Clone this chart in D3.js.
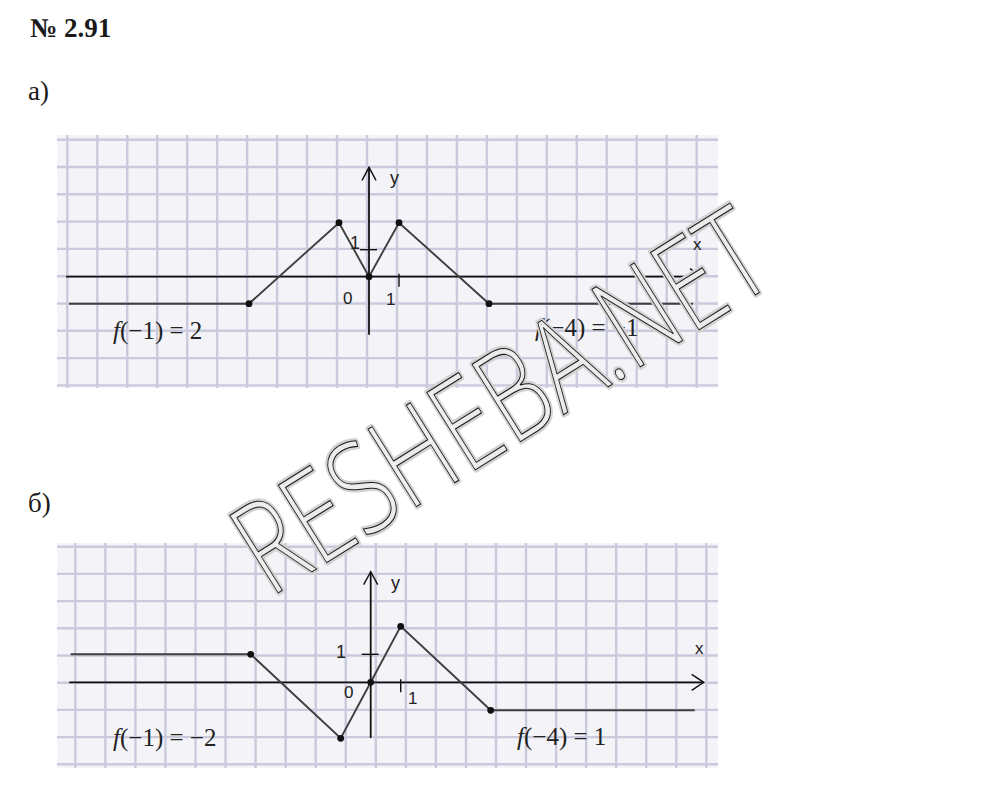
<!DOCTYPE html>
<html><head><meta charset="utf-8">
<script src="https://cdn.jsdelivr.net/npm/d3@7"></script>
<style>body{margin:0;background:#fff;} svg{display:block;}</style>
</head><body>
<script>
// ---- data (graph units) ----
const title = "№ 2.91";
const panelLabels = ["а)", "б)"];
const graphA_x = [-10, -4, -1, 0, 1, 4, 10.8];
const graphA_y = [-1, -1, 2, 0, 2, -1, -1];
const graphB_x = [-10, -4, -1, 0, 1, 4, 10.8];
const graphB_y = [1, 1, -2, 0, 2, -1, -1];
const dotIndex = [1, 2, 3, 4, 5];
const xAxisRange = [-10.1, 11.1];
const yAxisRangeA = [-2.15, 4.05];
const yAxisRangeB = [-1.99, 3.95];
const tickValue = 1;
const formulaA = [["f", "(−1) = 2"], ["f", "(−4) = −1"]];
const formulaB = [["f", "(−1) = −2"], ["f", "(−4) = 1"]];
const watermark = "RESHEBA.NET";

const svg = d3.select("body").append("svg").attr("width", 992).attr("height", 800);

svg.append("text").attr("x", 30).attr("y", 37)
  .style("font", "bold 27px 'Liberation Serif', serif").attr("fill", "#1a1a1a").text(title);

function panel(cfg) {
  const g = svg.append("g");
  g.append("rect").attr("x", cfg.paper[0]).attr("y", cfg.paper[1])
    .attr("width", cfg.paper[2] - cfg.paper[0]).attr("height", cfg.paper[3] - cfg.paper[1])
    .attr("fill", "#f3f3f8");
  const grid = g.append("g").attr("stroke", "#c6c6da").attr("stroke-width", 2.4).attr("opacity", 0.9);
  d3.range(cfg.gridX0, cfg.paper[2], cfg.gridDx).forEach(x => {
    grid.append("line").attr("x1", x).attr("x2", x).attr("y1", cfg.paper[1]).attr("y2", cfg.paper[3]);
  });
  d3.range(cfg.gridY0, cfg.paper[3], cfg.gridDy).forEach(y => {
    grid.append("line").attr("y1", y).attr("y2", y).attr("x1", cfg.paper[0]).attr("x2", cfg.paper[2]);
  });

  const x = d3.scaleLinear().domain([0, 1]).range([cfg.ox, cfg.ox + cfg.ux]);
  const y = d3.scaleLinear().domain([0, 1]).range([cfg.oy, cfg.oy - cfg.uy]);

  const ax = g.append("g").attr("stroke", "#111").attr("stroke-width", 1.8).attr("fill", "none");
  ax.append("line").attr("x1", x(cfg.xr[0])).attr("x2", x(cfg.xr[1])).attr("y1", y(0)).attr("y2", y(0));
  ax.append("line").attr("x1", x(0)).attr("x2", x(0)).attr("y1", y(cfg.yr[0])).attr("y2", y(cfg.yr[1]));
  ax.append("path").attr("d", `M${x(cfg.xr[1]) - 12},${y(0) - 8}L${x(cfg.xr[1])},${y(0)}L${x(cfg.xr[1]) - 12},${y(0) + 8}`).attr("stroke-width", 1.4);
  ax.append("path").attr("d", `M${x(0) - 7},${y(cfg.yr[1]) + 13}L${x(0)},${y(cfg.yr[1])}L${x(0) + 7},${y(cfg.yr[1]) + 13}`).attr("stroke-width", 1.4);
  ax.append("line").attr("x1", x(tickValue)).attr("x2", x(tickValue)).attr("y1", y(0) - 3).attr("y2", y(0) + 10).attr("stroke-width", 1.4);
  ax.append("line").attr("x1", x(0) - 9).attr("x2", x(0) + 8).attr("y1", y(tickValue)).attr("y2", y(tickValue)).attr("stroke-width", 1.4);

  const pts = cfg.gx.map((v, i) => [v, cfg.gy[i]]);
  g.append("path").datum(pts)
    .attr("d", d3.line().x(d => x(d[0])).y(d => y(d[1])))
    .attr("fill", "none").attr("stroke", "#3f3f3f").attr("stroke-width", 1.9);
  g.selectAll(".dot").data(dotIndex.map(i => pts[i])).enter().append("circle")
    .attr("cx", d => x(d[0])).attr("cy", d => y(d[1])).attr("r", 3.4).attr("fill", "#111");

  const lab = g.append("g").style("font", "17px 'Liberation Sans', Arial, sans-serif").attr("fill", "#222");
  cfg.labels.forEach(l => lab.append("text").attr("x", l[0]).attr("y", l[1]).style("font-size", l[3] + "px").text(l[2]));

  cfg.formulas.forEach((f, i) => {
    const t = g.append("text").attr("x", cfg.fpos[i][0]).attr("y", cfg.fpos[i][1])
      .style("font", "25px 'Liberation Serif', 'Times New Roman', serif").attr("fill", "#222");
    t.append("tspan").style("font-style", "italic").text(f[0]);
    t.append("tspan").text(f[1]);
  });
}

svg.append("text").attr("x", 28).attr("y", 100).style("font", "27px 'Liberation Serif', serif").attr("fill", "#1a1a1a").text(panelLabels[0]);
svg.append("text").attr("x", 28).attr("y", 512).style("font", "27px 'Liberation Serif', serif").attr("fill", "#1a1a1a").text(panelLabels[1]);

panel({
  paper: [57, 135, 718, 388], gridX0: 67.3, gridDx: 29.97, gridY0: 139.7, gridDy: 27.3,
  ox: 369, oy: 276.7, ux: 30, uy: 27, xr: xAxisRange, yr: yAxisRangeA,
  gx: graphA_x, gy: graphA_y,
  labels: [[390, 184, "y", 18], [693, 250, "x", 17], [343, 304, "0", 17], [386, 305, "1", 17], [350, 249, "1", 18]],
  formulas: formulaA, fpos: [[113, 339], [535, 336]]
});
panel({
  paper: [57, 543, 718, 768], gridX0: 75.3, gridDx: 30.05, gridY0: 546.7, gridDy: 27.2,
  ox: 370.7, oy: 682.3, ux: 30, uy: 28, xr: [-10.05, 11.1], yr: yAxisRangeB,
  gx: graphB_x, gy: graphB_y,
  labels: [[391, 589, "y", 18], [695, 654, "x", 17], [344, 698, "0", 17], [408, 704, "1", 17], [336, 658, "1", 18]],
  formulas: formulaB, fpos: [[113, 746], [517, 745]]
});

// watermark: hollow outlined letters with a soft grey halo
const wm = svg.append("g").attr("transform", "translate(500,400) rotate(-32)");
const wmText = (stroke, sw, fill, fo) => wm.append("text")
  .attr("text-anchor", "middle").attr("dy", "0.36em")
  .attr("textLength", 600).attr("lengthAdjust", "spacingAndGlyphs")
  .style("font", "300 128px 'Open Sans', 'DejaVu Sans', sans-serif")
  .attr("fill", fill).attr("fill-opacity", fo).attr("stroke", stroke).attr("stroke-width", sw)
  .attr("stroke-linejoin", "round").text(watermark);
wmText("#d2d2d2", 6, "none", 0);
wmText("#1a1a1a", 1.1, "#ffffff", 0.55);
</script>
</body></html>
